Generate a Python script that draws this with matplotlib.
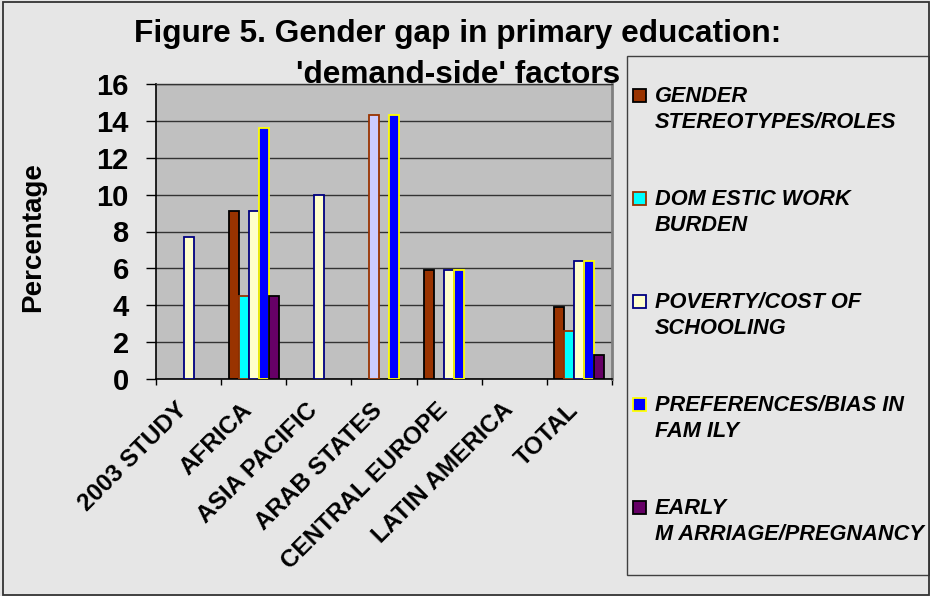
import matplotlib
matplotlib.use('Agg')
import matplotlib.pyplot as plt
from matplotlib.patches import Rectangle
import matplotlib.transforms as mtransforms
import numpy as np

# ---------------- data ----------------
categories = ['2003 STUDY', 'AFRICA', 'ASIA PACIFIC', 'ARAB STATES',
              'CENTRAL EUROPE', 'LATIN AMERICA', 'TOTAL']
series_names = ['GENDER\nSTEREOTYPES/ROLES', 'DOM ESTIC WORK\nBURDEN',
                'POVERTY/COST OF\nSCHOOLING', 'PREFERENCES/BIAS IN\nFAM ILY',
                'EARLY\nM ARRIAGE/PREGNANCY']
nan = np.nan
gender_roles   = [nan, 9.1, nan, nan, 5.9, nan, 3.9]
domestic_work  = [nan, 4.5, nan, 14.3, nan, nan, 2.6]
poverty_cost   = [7.7, 9.1, 10.0, nan, 5.9, nan, 6.4]
family_bias    = [nan, 13.6, nan, 14.3, 5.9, nan, 6.4]
early_marriage = [nan, 4.5, nan, nan, nan, nan, 1.3]
y_ticks = [0, 2, 4, 6, 8, 10, 12, 14, 16]

series_values = [gender_roles, domestic_work, poverty_cost, family_bias, early_marriage]
fills = ['#993300', '#00FFFF', '#FFFFCC', '#0000FF', '#660066']
edges = ['#000000', '#993300', '#000080', '#FFFF00', '#000000']
# individually formatted point (series 1, ARAB STATES)
point_fill_override = {(1, 3): '#CCCCFF'}

W, H = 930, 596
def fx(px): return px / W
def fy(py): return 1 - py / H

plt.rcParams['font.family'] = ['Liberation Sans', 'DejaVu Sans']
fig = plt.figure(figsize=(9.3, 5.96), dpi=100)
fig.patch.set_facecolor('#e6e6e6')

ax = fig.add_axes([fx(156), fy(379), fx(612) - fx(156), fy(84) - fy(379)])
ax.set_facecolor('#C0C0C0')

n_cat = len(categories)
bw = 1 / 6.5
x = np.arange(n_cat)
for k, vals in enumerate(series_values):
    for i, v in enumerate(vals):
        if np.isnan(v):
            continue
        fc = point_fill_override.get((k, i), fills[k])
        ax.bar(x[i] + (k - 2) * bw, v, width=bw, color=fc, edgecolor=edges[k],
               linewidth=1.3, zorder=3)

ax.set_xlim(-0.5, n_cat - 0.5)
ax.set_ylim(0, 16)
ax.set_yticks(y_ticks)
ax.set_yticklabels([str(t) for t in y_ticks], fontsize=21, fontweight='bold')
ax.tick_params(axis='y', direction='out', length=7.2, width=1, pad=12.5, color='#000000')
ax.yaxis.grid(True, color='#333333', linewidth=1.0, zorder=0)
ax.set_axisbelow(True)

ax.set_xticks(x)
ax.set_xticks(np.arange(-0.5, n_cat, 1.0), minor=True)
ax.set_xticklabels(categories, fontsize=17.5, fontweight='bold', rotation=45,
                   ha='right', va='top', rotation_mode='anchor')
ax.tick_params(axis='x', which='major', length=0, pad=14)
ax.tick_params(axis='x', which='minor', direction='out', length=4.3, width=1, color='#000000')
offset = mtransforms.ScaledTranslation(-0.13, 0, fig.dpi_scale_trans)
for lab in ax.get_xticklabels():
    lab.set_transform(lab.get_transform() + offset)

for s in ['left', 'bottom']:
    ax.spines[s].set_color('#000000')
    ax.spines[s].set_linewidth(1.2)
ax.spines['top'].set_color('#333333')
ax.spines['top'].set_linewidth(1.0)
ax.spines['right'].set_color('#808080')
ax.spines['right'].set_linewidth(2.0)

# title
fig.text(fx(458), fy(42), 'Figure 5. Gender gap in primary education:', ha='center',
         va='baseline', fontsize=22.8, fontweight='bold')
fig.text(fx(458), fy(83), "'demand-side' factors", ha='center',
         va='baseline', fontsize=22.8, fontweight='bold')

# y label
fig.text(fx(33), fy(237), 'Percentage', rotation=90, ha='center', va='center',
         fontsize=20, fontweight='bold')

# legend (manual)
fig.patches.append(Rectangle((fx(626.5), fy(575)), fx(929) - fx(626.5), fy(56) - fy(575),
                             transform=fig.transFigure, facecolor='none',
                             edgecolor='#404040', linewidth=1.0))
base0 = 102
step = 103
line_gap = 26
for k, name in enumerate(series_names):
    b = base0 + k * step
    fig.patches.append(Rectangle((fx(633), fy(b)), fx(646) - fx(633), fy(b - 13) - fy(b),
                                 transform=fig.transFigure, facecolor=fills[k],
                                 edgecolor=edges[k], linewidth=1.3))
    for j, line in enumerate(name.split('\n')):
        fig.text(fx(655), fy(b + j * line_gap), line, ha='left', va='baseline',
                 fontsize=15.7, fontweight='bold', style='italic')

# outer border
fig.patches.append(Rectangle((fx(3), fy(595)), fx(929) - fx(3), fy(2) - fy(595),
                             transform=fig.transFigure, facecolor='none',
                             edgecolor='#333333', linewidth=1.3))

fig.savefig('out.png', dpi=100, facecolor=fig.get_facecolor())
